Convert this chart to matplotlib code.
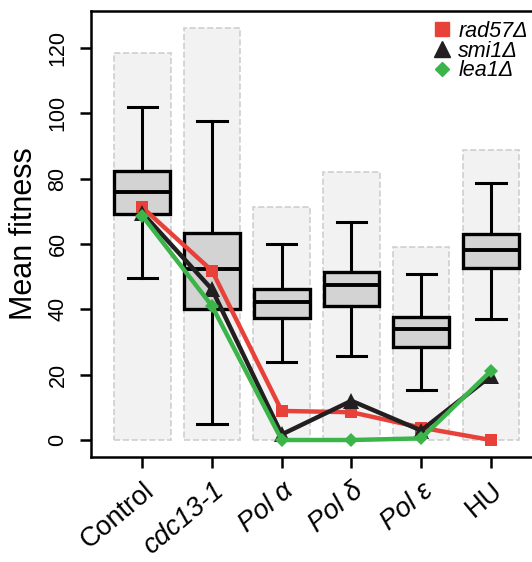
import matplotlib
matplotlib.use('Agg')
import matplotlib.pyplot as plt
from matplotlib.lines import Line2D

plt.rcParams['font.family'] = ['Liberation Sans', 'DejaVu Sans']

# data
conditions = ['Control', 'cdc13-1', 'Pol α', 'Pol δ', 'Pol ε', 'HU']
italic_labels = [False, True, True, True, True, False]
bg_height = [118.4, 126.0, 71.2, 82.0, 59.2, 88.8]

whisker_lo = [49.6, 4.9, 23.9, 25.7, 15.3, 36.9]
q1 = [69.1, 40.0, 37.2, 41.1, 28.6, 52.6]
median = [75.8, 52.4, 42.1, 47.4, 34.0, 58.2]
q3 = [82.3, 63.3, 46.2, 51.5, 37.5, 63.0]
whisker_hi = [102.0, 97.7, 59.9, 66.8, 50.8, 78.6]

rad57 = [71.2, 51.8, 8.9, 8.5, 3.8, 0.0]
smi1 = [69.5, 46.1, 1.7, 12.0, 2.9, 19.6]
lea1 = [68.6, 41.0, 0.0, 0.0, 0.5, 21.1]

red = '#E8413A'
blk = '#231F20'
grn = '#3BB44A'

x = list(range(1, len(conditions) + 1))

fig = plt.figure(figsize=(5.32, 5.62), dpi=100)
ax = fig.add_axes([0.1705, 0.1874, 0.84, 0.7925])

# grey background bars
ax.bar(x, bg_height, width=0.81, color='#F2F2F2', edgecolor='#CFCFCF',
       linestyle='--', linewidth=1.2, zorder=1)

# boxplots
stats = []
for i in range(len(x)):
    stats.append({'whislo': whisker_lo[i], 'q1': q1[i], 'med': median[i],
                  'q3': q3[i], 'whishi': whisker_hi[i], 'fliers': []})
ax.bxp(stats, positions=x, widths=0.8, patch_artist=True, showfliers=False,
       boxprops=dict(facecolor='#D3D3D3', edgecolor='black', linewidth=2.4),
       medianprops=dict(color='black', linewidth=2.8),
       whiskerprops=dict(color='black', linewidth=2.2),
       capprops=dict(color='black', linewidth=2.2),
       capwidths=0.42, zorder=2)

# strain lines
ax.plot(x, rad57, color=red, marker='s', markersize=9, linewidth=3.2,
        markeredgewidth=0, zorder=3)
ax.plot(x, smi1, color=blk, marker='^', markersize=11, linewidth=3.2,
        markeredgewidth=0, zorder=4)
ax.plot(x, lea1, color=grn, marker='D', markersize=7, linewidth=3.2,
        markeredgewidth=0, zorder=5)

ax.set_xlim(0.26, 6.67)
ax.set_ylim(-5.1, 131.2)
ax.set_yticks([0, 20, 40, 60, 80, 100, 120])
ax.set_yticklabels(['0', '20', '40', '60', '80', '100', '120'],
                   rotation=90, va='center', fontsize=15.5)
ax.set_xticks(x)
ax.set_xticklabels(conditions, rotation=40, ha='right',
                   rotation_mode='anchor', fontsize=19.5)
for lab, it in zip(ax.get_xticklabels(), italic_labels):
    if it:
        lab.set_style('italic')
ax.tick_params(axis='both', length=8, width=1.8, color='black')
ax.tick_params(axis='x', pad=7)
ax.tick_params(axis='y', pad=8)
ax.set_ylabel('Mean fitness', fontsize=22, labelpad=6)

for s in ['left', 'top', 'bottom']:
    ax.spines[s].set_linewidth(1.8)
ax.spines['right'].set_visible(False)

handles = [Line2D([], [], color=red, marker='s', linestyle='none', markersize=10),
           Line2D([], [], color=blk, marker='^', linestyle='none', markersize=11),
           Line2D([], [], color=grn, marker='D', linestyle='none', markersize=7.5)]
leg = ax.legend(handles, ['rad57Δ', 'smi1Δ', 'lea1Δ'], loc='upper right',
                bbox_to_anchor=(1.0, 1.0), frameon=False, fontsize=15.5,
                handlelength=0.8, handletextpad=0.35, labelspacing=-0.06,
                borderaxespad=0.05)
for t in leg.get_texts():
    t.set_style('italic')

fig.savefig('out.png', dpi=100)
